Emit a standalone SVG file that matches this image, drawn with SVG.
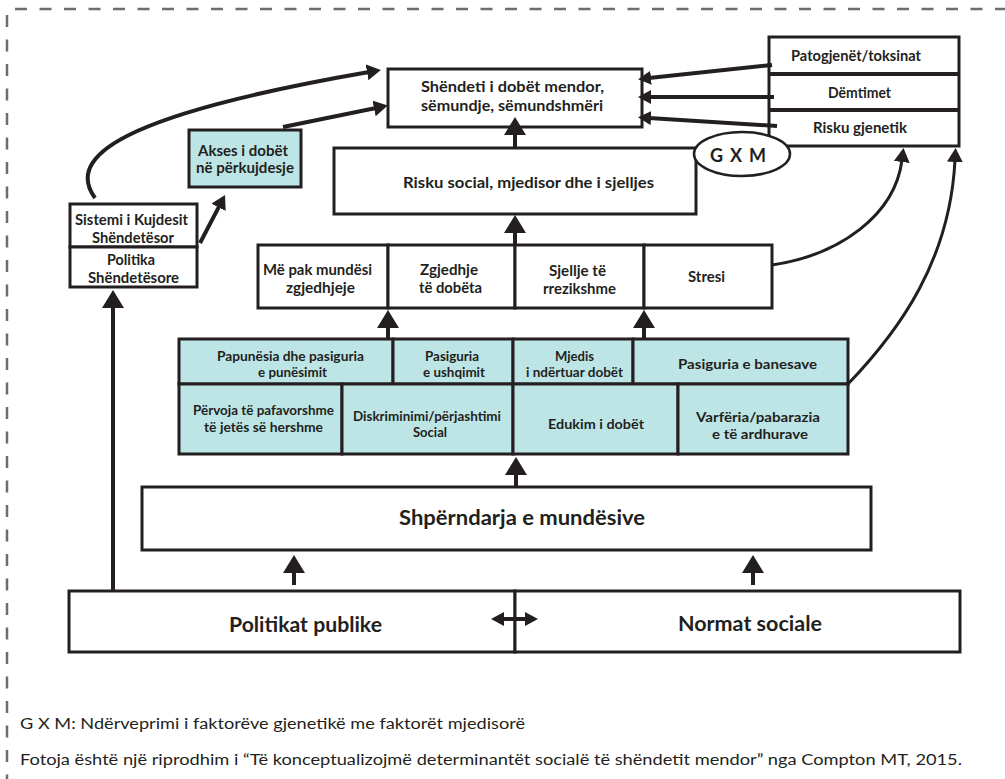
<svg xmlns="http://www.w3.org/2000/svg" width="1005" height="779" viewBox="0 0 1005 779">
<style>
.box{fill:#fff;stroke:#231f20;stroke-width:3}
.blue{fill:#bde5e6;stroke:#231f20;stroke-width:3}
.t{font-family:Lato,"Open Sans","Liberation Sans",sans-serif;font-weight:700;fill:#231f20;text-anchor:middle;dominant-baseline:central}
.s16{font-size:16px}
.s15{font-size:15px}
.s14{font-size:14px}
.s20{font-size:20px}
.foot{font-family:Lato,"Open Sans","Liberation Sans",sans-serif;font-weight:400;font-size:15.5px;fill:#231f20;dominant-baseline:central}
.c{fill:none;stroke:#231f20;stroke-width:4}
.c3{fill:none;stroke:#231f20;stroke-width:3}
.border{fill:none;stroke:#6d6d6d;stroke-width:2.5;stroke-dasharray:12 12.5}
</style>
<defs>
<marker id="big" markerUnits="userSpaceOnUse" markerWidth="18" markerHeight="22" viewBox="0 0 18 22" refX="2" refY="11" orient="auto"><path d="M0,0 L18,11 L0,22 z" fill="#231f20"/></marker>
<marker id="med" markerUnits="userSpaceOnUse" markerWidth="14" markerHeight="16" viewBox="0 0 14 16" refX="2" refY="8" orient="auto"><path d="M0,0 L14,8 L0,16 z" fill="#231f20"/></marker>
<marker id="sm" markerUnits="userSpaceOnUse" markerWidth="13" markerHeight="14" viewBox="0 0 13 14" refX="2" refY="7" orient="auto-start-reverse"><path d="M0,0 L13,7 L0,14 z" fill="#231f20"/></marker>
</defs>
<rect width="1005" height="779" fill="#fff"/>
<path class="border" d="M15,9 H1005 M7,15 V779"/>

<g id="shendeti">
<rect class="box" x="388" y="69" width="254" height="58"/>
<text class="t s16" x="512.5" y="85" textLength="183" lengthAdjust="spacingAndGlyphs">Shëndeti i dobët mendor,</text>
<text class="t s16" x="512" y="104" textLength="182" lengthAdjust="spacingAndGlyphs">sëmundje, sëmundshmëri</text>
</g>
<g id="faktore-biologjike">
<rect class="box" x="769" y="37" width="190" height="109"/>
<line x1="769" y1="74" x2="959" y2="74" stroke="#231f20" stroke-width="4"/>
<line x1="769" y1="110" x2="959" y2="110" stroke="#231f20" stroke-width="4"/>
<text class="t s15" x="856" y="55" textLength="130" lengthAdjust="spacingAndGlyphs">Patogjenët/toksinat</text>
<text class="t s15" x="859.5" y="92" textLength="63" lengthAdjust="spacingAndGlyphs">Dëmtimet</text>
<text class="t s15" x="860" y="127" textLength="94" lengthAdjust="spacingAndGlyphs">Risku gjenetik</text>
</g>
<g id="akses">
<rect class="blue" x="189" y="130" width="112" height="57"/>
<text class="t s15" x="243" y="150" textLength="90" lengthAdjust="spacingAndGlyphs">Akses i dobët</text>
<text class="t s15" x="245" y="167" textLength="98" lengthAdjust="spacingAndGlyphs">në përkujdesje</text>
</g>
<g id="sistemi">
<rect class="box" x="70" y="204" width="127" height="43"/>
<text class="t s15" x="131.5" y="219" textLength="113" lengthAdjust="spacingAndGlyphs">Sistemi i Kujdesit</text>
<text class="t s15" x="133" y="237" textLength="82" lengthAdjust="spacingAndGlyphs">Shëndetësor</text>
</g>
<g id="politika">
<rect class="box" x="70" y="247" width="127" height="40"/>
<text class="t s15" x="131" y="259" textLength="48" lengthAdjust="spacingAndGlyphs">Politika</text>
<text class="t s15" x="133.5" y="277" textLength="91" lengthAdjust="spacingAndGlyphs">Shëndetësore</text>
</g>
<g id="risku-social">
<rect class="box" x="334" y="148" width="362" height="66"/>
<text class="t s16" x="528.5" y="181" textLength="251" lengthAdjust="spacingAndGlyphs">Risku social, mjedisor dhe i sjelljes</text>
</g>
<g id="gxm">
<ellipse cx="742" cy="154" rx="48" ry="22" fill="#fff" stroke="#231f20" stroke-width="2.5"/>
<text class="t" x="738" y="155" font-size="18" textLength="56" lengthAdjust="spacing">G X M</text>
</g>
<g id="rreshti-sjelljet">
<rect class="box" x="258" y="245" width="130" height="63"/>
<rect class="box" x="388" y="245" width="127" height="63"/>
<rect class="box" x="515" y="245" width="129" height="63"/>
<rect class="box" x="644" y="245" width="128" height="63"/>
<text class="t s15" x="317.5" y="269" textLength="109" lengthAdjust="spacingAndGlyphs">Më pak mundësi</text>
<text class="t s15" x="320.5" y="287" textLength="69" lengthAdjust="spacingAndGlyphs">zgjedhjeje</text>
<text class="t s15" x="449" y="269" textLength="58" lengthAdjust="spacingAndGlyphs">Zgjedhje</text>
<text class="t s15" x="450.5" y="287" textLength="63" lengthAdjust="spacingAndGlyphs">të dobëta</text>
<text class="t s15" x="577.5" y="270" textLength="57" lengthAdjust="spacingAndGlyphs">Sjellje të</text>
<text class="t s15" x="579.5" y="288" textLength="73" lengthAdjust="spacingAndGlyphs">rrezikshme</text>
<text class="t s15" x="706.5" y="276" textLength="37" lengthAdjust="spacingAndGlyphs">Stresi</text>
</g>
<g id="determinantet">
<rect class="blue" x="179" y="339" width="214" height="45"/>
<rect class="blue" x="393" y="339" width="120" height="45"/>
<rect class="blue" x="513" y="339" width="120" height="45"/>
<rect class="blue" x="633" y="339" width="215" height="45"/>
<rect class="blue" x="179" y="384" width="163" height="70"/>
<rect class="blue" x="342" y="384" width="171" height="70"/>
<rect class="blue" x="513" y="384" width="165" height="70"/>
<rect class="blue" x="678" y="384" width="170" height="70"/>
<text class="t s14" x="290.5" y="355" textLength="147" lengthAdjust="spacingAndGlyphs">Papunësia dhe pasiguria</text>
<text class="t s14" x="292.5" y="371" textLength="69" lengthAdjust="spacingAndGlyphs">e punësimit</text>
<text class="t s14" x="452" y="355" textLength="54" lengthAdjust="spacingAndGlyphs">Pasiguria</text>
<text class="t s14" x="454" y="371" textLength="62" lengthAdjust="spacingAndGlyphs">e ushqimit</text>
<text class="t s14" x="574.5" y="355" textLength="39" lengthAdjust="spacingAndGlyphs">Mjedis</text>
<text class="t s14" x="574.5" y="371" textLength="97" lengthAdjust="spacingAndGlyphs">i ndërtuar dobët</text>
<text class="t s14" x="747.5" y="363" textLength="139" lengthAdjust="spacingAndGlyphs">Pasiguria e banesave</text>
<text class="t s14" x="263.5" y="409" textLength="141" lengthAdjust="spacingAndGlyphs">Përvoja të pafavorshme</text>
<text class="t s14" x="263.5" y="426" textLength="119" lengthAdjust="spacingAndGlyphs">të jetës së hershme</text>
<text class="t s14" x="427" y="415" textLength="148" lengthAdjust="spacingAndGlyphs">Diskriminimi/përjashtimi</text>
<text class="t s14" x="430" y="431" textLength="34" lengthAdjust="spacingAndGlyphs">Social</text>
<text class="t s14" x="596" y="423" textLength="96" lengthAdjust="spacingAndGlyphs">Edukim i dobët</text>
<text class="t s14" x="758" y="416" textLength="124" lengthAdjust="spacingAndGlyphs">Varfëria/pabarazia</text>
<text class="t s14" x="760" y="433" textLength="96" lengthAdjust="spacingAndGlyphs">e të ardhurave</text>
</g>
<g id="shperndarja">
<rect class="box" x="142" y="487" width="729" height="63"/>
<text class="t s20" x="522" y="517" textLength="246" lengthAdjust="spacingAndGlyphs">Shpërndarja e mundësive</text>
</g>
<g id="politikat-publike">
<rect class="box" x="69" y="591" width="446" height="61"/>
<text class="t s20" x="305.5" y="624" textLength="153" lengthAdjust="spacingAndGlyphs">Politikat publike</text>
</g>
<g id="normat-sociale">
<rect class="box" x="515" y="591" width="445" height="61"/>
<text class="t s20" x="750" y="623" textLength="144" lengthAdjust="spacingAndGlyphs">Normat sociale</text>
</g>

<g id="connectors">
<path class="c" d="M772,65 L649,78" marker-end="url(#sm)"/>
<path class="c" d="M774,97 L649,97" marker-end="url(#sm)"/>
<path class="c" d="M777,126 L649,118" marker-end="url(#sm)"/>
<path class="c" d="M515,148 V133" marker-end="url(#big)"/>
<path class="c" d="M515,245 V231" marker-end="url(#big)"/>
<path class="c" d="M388,339 V326" marker-end="url(#big)"/>
<path class="c" d="M644,339 V326" marker-end="url(#big)"/>
<path class="c" d="M516,487 V473" marker-end="url(#big)"/>
<path class="c" d="M294,585 V571" marker-end="url(#big)"/>
<path class="c" d="M753,585 V571" marker-end="url(#big)"/>
<path class="c" d="M113,591 V306" marker-end="url(#big)"/>
<path class="c" d="M95,198 C60,150 150,110 369,72" marker-end="url(#med)"/>
<path class="c" d="M200,243 L219.5,205.6" marker-end="url(#med)"/>
<path class="c" d="M283,127 L376,108" marker-end="url(#med)"/>
<path class="c3" d="M772,265 C840,255 895,215 902,160" marker-end="url(#med)"/>
<path class="c3" d="M848,384 C900,330 950,260 955,160" marker-end="url(#med)"/>
<path class="c" d="M502,619 H527" marker-start="url(#sm)" marker-end="url(#sm)"/>
</g>

<text class="foot" x="20" y="723" textLength="505" lengthAdjust="spacingAndGlyphs">G X M: Ndërveprimi i faktorëve gjenetikë me faktorët mjedisorë</text>
<text class="foot" x="20" y="759" textLength="942" lengthAdjust="spacingAndGlyphs">Fotoja është një riprodhim i “Të konceptualizojmë determinantët socialë të shëndetit mendor” nga Compton MT, 2015.</text>
</svg>
